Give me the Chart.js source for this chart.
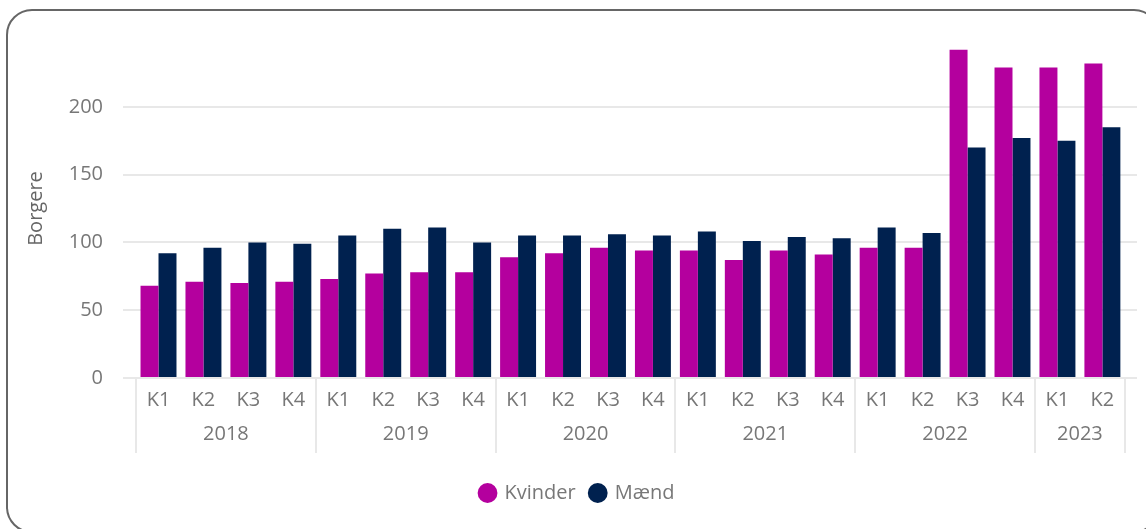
<!DOCTYPE html>
<html>
<head>
<meta charset="utf-8">
<script src="https://cdn.jsdelivr.net/npm/chart.js@4"></script>
<style>
  html, body { margin: 0; padding: 0; background: #fff; overflow: hidden; }
  #frame { position: absolute; left: 6px; top: 9px; width: 1150px; height: 520px; border: 2px solid #666; border-radius: 26px; }
  #wrap { position: absolute; left: 0; top: 0; width: 1146px; height: 529px; }
</style>
</head>
<body>
<div id="frame"></div>
<div id="wrap"><canvas id="chart"></canvas></div>
<script>
const quarterLabels = ['K1', 'K2', 'K3', 'K4', 'K1', 'K2', 'K3', 'K4', 'K1', 'K2', 'K3', 'K4',
  'K1', 'K2', 'K3', 'K4', 'K1', 'K2', 'K3', 'K4', 'K1', 'K2'];
const years = ['2018', '2019', '2020', '2021', '2022', '2023'];
const quartersPerYear = [4, 4, 4, 4, 4, 2];
const kvinder = [68, 71, 70, 71, 73, 77, 78, 78, 89, 92, 96, 94, 94, 87, 94, 91, 96, 96, 242, 229, 229, 232];
const maend = [92, 96, 100, 99, 105, 110, 111, 100, 105, 105, 106, 105, 108, 101, 104, 103, 111, 107, 170, 177, 175, 185];
const yTicks = [0, 50, 100, 150, 200];

const FONT = "'Segoe UI', 'Open Sans', sans-serif";
const TEXT = '#777';

// year boundaries / centres on the index axis
const bounds = [-0.5];
const centres = [];
let start = 0;
quartersPerYear.forEach(n => {
  centres.push(start + (n - 1) / 2);
  start += n;
  bounds.push(start - 0.5);
});

const X_MIN = -0.79, X_MAX = 21.77;
const tickFont = { family: FONT, size: 20 };

new Chart(document.getElementById('chart'), {
  type: 'bar',
  data: {
    datasets: [
      { label: 'Kvinder', data: kvinder.map((v, i) => ({ x: i, y: v })), backgroundColor: '#b4009e' },
      { label: 'Mænd', data: maend.map((v, i) => ({ x: i, y: v })), backgroundColor: '#00214f' },
    ],
  },
  options: {
    responsive: true,
    maintainAspectRatio: false,
    animation: false,
    categoryPercentage: 0.8,
    barPercentage: 1.0,
    layout: { padding: { left: 18, right: 9, top: 39, bottom: 16 } },
    plugins: {
      tooltip: { enabled: false },
      legend: {
        position: 'bottom',
        labels: {
          usePointStyle: true, pointStyle: 'circle', boxWidth: 14, boxHeight: 14, padding: 15,
          color: TEXT, font: tickFont,
        },
      },
    },
    scales: {
      // index axis used by the bars, not drawn
      x: { type: 'linear', min: X_MIN, max: X_MAX, offset: false, display: false, grid: { offset: false } },
      // quarter labels + year separators
      xq: {
        axis: 'x', type: 'linear', position: 'bottom', min: X_MIN, max: X_MAX, offset: false, weight: 0,
        afterBuildTicks: s => {
          const vals = quarterLabels.map((_, i) => i).concat(bounds).sort((a, b) => a - b);
          s.ticks = vals.map(v => ({ value: v }));
        },
        afterFit: s => { s.height = 40; },
        grid: {
          offset: false, drawOnChartArea: false, tickLength: 75, lineWidth: 2,
          color: ctx => (ctx.tick && bounds.includes(ctx.tick.value)) ? '#e8e8e8' : 'rgba(0,0,0,0)',
        },
        border: { display: false },
        ticks: { autoSkip: false, maxRotation: 0, padding: -65, color: TEXT, font: tickFont,
          callback: v => Number.isInteger(v) ? quarterLabels[v] : '' },
      },
      // year labels
      xy: {
        axis: 'x', type: 'linear', position: 'bottom', min: X_MIN, max: X_MAX, offset: false, weight: 1,
        afterBuildTicks: s => { s.ticks = centres.map(v => ({ value: v })); },
        afterFit: s => { s.height = 50; },
        grid: { display: false, offset: false },
        border: { display: false },
        ticks: { autoSkip: false, maxRotation: 0, padding: -4, color: TEXT, font: tickFont,
          callback: v => years[centres.indexOf(v)] },
      },
      y: {
        min: 0, max: 250,
        afterBuildTicks: s => { s.ticks = yTicks.map(v => ({ value: v })); },
        afterFit: s => { s.width = 105; },
        grid: { color: '#e8e8e8', lineWidth: 2, drawTicks: false },
        border: { display: false },
        ticks: { padding: 20, color: TEXT, font: tickFont },
        title: { display: true, text: 'Borgere', color: '#666', padding: { top: 6, bottom: 0 }, font: tickFont },
      },
    },
  },
});
</script>
</body>
</html>
